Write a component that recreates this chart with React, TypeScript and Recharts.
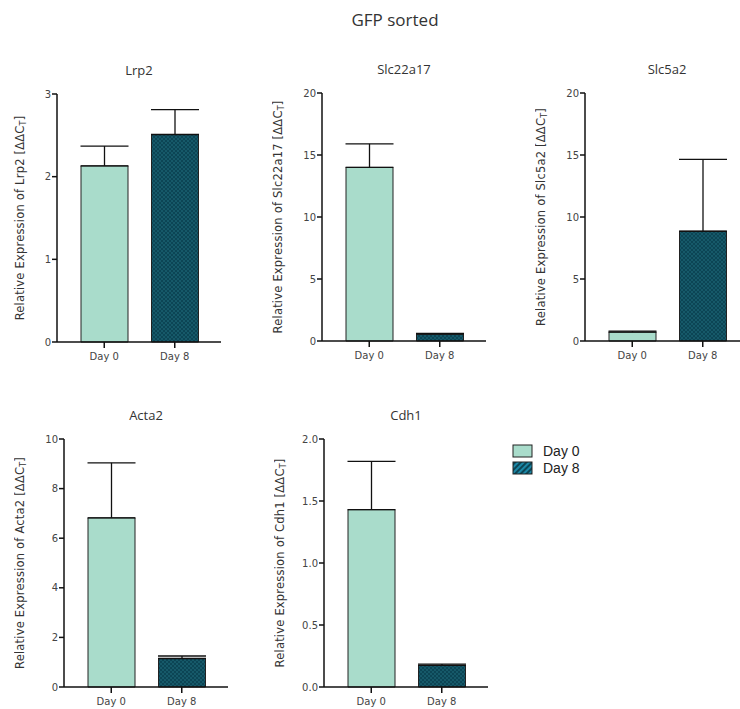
import React from "react";
import { BarChart, Bar, XAxis, YAxis, Cell, ErrorBar } from "recharts";

const days = ["Day 0", "Day 8"];

const lrp2Mean = [2.13, 2.51];
const lrp2Sd = [0.24, 0.3];
const slc22a17Mean = [14.0, 0.55];
const slc22a17Sd = [1.9, 0.07];
const slc5a2Mean = [0.72, 8.85];
const slc5a2Sd = [0.07, 5.8];
const acta2Mean = [6.82, 1.15];
const acta2Sd = [2.22, 0.1];
const cdh1Mean = [1.43, 0.175];
const cdh1Sd = [0.39, 0.01];

const lrp2Ticks = [0, 1, 2, 3];
const slcTicks = [0, 5, 10, 15, 20];
const acta2Ticks = [0, 2, 4, 6, 8, 10];
const cdh1Ticks = [0, 0.5, 1, 1.5, 2];

const DAY0_FILL = "#a9dccb";
const AXIS_W = 50;
const PLOT_W = 164;
const PLOT_H = 248;
const TOP_PAD = 30;
const LABEL_FONT = "'DejaVu Sans', Verdana, sans-serif";

type PanelProps = {
  gene: string;
  mean: number[];
  sd: number[];
  ticks: number[];
  axisX: number;
  plotTop: number;
  labelGap: number;
  fmt?: (v: number) => string;
};

const YLabel = ({ gene, gap }: { gene: string; gap: number }) => {
  const cx = AXIS_W - gap;
  const cy = TOP_PAD + PLOT_H / 2;
  return (
    <text
      x={cx}
      y={cy}
      transform={`rotate(-90, ${cx}, ${cy})`}
      textAnchor="middle"
      dominantBaseline="central"
      fontSize={11.5}
      letterSpacing={0.2}
      fontFamily={LABEL_FONT}
      fill="#333"
    >
      Relative Expression of {gene} [ΔΔC
      <tspan dy={3} fontSize={8}>
        T
      </tspan>
      <tspan dy={-3}>]</tspan>
    </text>
  );
};

const Panel = ({ gene, mean, sd, ticks, axisX, plotTop, labelGap, fmt }: PanelProps) => {
  const data = days.map((d, i) => ({ day: d, value: mean[i], err: [0, sd[i]] }));
  return (
    <div style={{ position: "absolute", left: axisX - AXIS_W, top: plotTop - TOP_PAD }}>
      <div
        style={{
          position: "absolute",
          left: AXIS_W,
          width: PLOT_W,
          top: -3,
          textAlign: "center",
          fontFamily: "'Open Sans', sans-serif",
          fontSize: 13,
          color: "#333",
        }}
      >
        {gene}
      </div>
      <BarChart
        width={AXIS_W + PLOT_W + 4}
        height={TOP_PAD + PLOT_H + 30}
        data={data}
        margin={{ top: TOP_PAD, right: 4, bottom: 0, left: 0 }}
        barSize={47}
      >
        <XAxis
          dataKey="day"
          height={30}
          padding={{ left: 12, right: 11 }}
          axisLine={{ stroke: "#111", strokeWidth: 1.5 }}
          tickLine={{ stroke: "#111", strokeWidth: 1.5 }}
          tickSize={6}
          tickMargin={5}
          tick={{ fill: "#444", fontSize: 10, fontFamily: LABEL_FONT }}
        />
        <YAxis
          width={AXIS_W}
          domain={[ticks[0], ticks[ticks.length - 1]]}
          ticks={ticks}
          tickFormatter={fmt}
          axisLine={{ stroke: "#111", strokeWidth: 1.5 }}
          tickLine={{ stroke: "#111", strokeWidth: 1.5 }}
          tickSize={5}
          tickMargin={1}
          tick={{ fill: "#444", fontSize: 10, fontFamily: LABEL_FONT }}
          label={<YLabel gene={gene} gap={labelGap} />}
        />
        <Bar dataKey="value" isAnimationActive={false} stroke="#222" strokeWidth={1}>
          <Cell fill={DAY0_FILL} />
          <Cell fill="url(#day8Dots)" />
          <ErrorBar dataKey="err" direction="y" width={24} stroke="#111" strokeWidth={1.3} />
        </Bar>
      </BarChart>
    </div>
  );
};

export default function App() {
  return (
    <div style={{ position: "absolute", left: 0, top: 0, width: 740, height: 709, background: "#fff" }}>
      <svg width={0} height={0} style={{ position: "absolute" }}>
        <defs>
          <pattern id="day8Dots" width={4} height={4} patternUnits="userSpaceOnUse">
            <rect width={4} height={4} fill="#0c4555" />
            <circle cx={1} cy={1} r={0.9} fill="#1a6272" />
            <circle cx={3} cy={3} r={0.9} fill="#1a6272" />
          </pattern>
          <pattern
            id="day8Hatch"
            width={4}
            height={4}
            patternUnits="userSpaceOnUse"
            patternTransform="rotate(45)"
          >
            <rect width={4} height={4} fill="#0c4555" />
            <rect width={2} height={4} fill="#1b87a6" />
          </pattern>
        </defs>
      </svg>

      <div
        style={{
          position: "absolute",
          left: 295,
          width: 200,
          top: 8,
          textAlign: "center",
          fontFamily: "'Open Sans', sans-serif",
          fontSize: 17,
          color: "#333",
        }}
      >
        GFP sorted
      </div>

      <Panel gene="Lrp2" mean={lrp2Mean} sd={lrp2Sd} ticks={lrp2Ticks} axisX={57} plotTop={94} labelGap={37} />
      <Panel gene="Slc22a17" mean={slc22a17Mean} sd={slc22a17Sd} ticks={slcTicks} axisX={322} plotTop={93} labelGap={44} />
      <Panel gene="Slc5a2" mean={slc5a2Mean} sd={slc5a2Sd} ticks={slcTicks} axisX={585} plotTop={93} labelGap={44} />
      <Panel gene="Acta2" mean={acta2Mean} sd={acta2Sd} ticks={acta2Ticks} axisX={64} plotTop={439} labelGap={44} />
      <Panel
        gene="Cdh1"
        mean={cdh1Mean}
        sd={cdh1Sd}
        ticks={cdh1Ticks}
        axisX={324}
        plotTop={439}
        labelGap={44}
        fmt={(v) => v.toFixed(1)}
      />

      <svg width={120} height={45} style={{ position: "absolute", left: 505, top: 440 }}>
        <rect x={8} y={5} width={19} height={12} fill={DAY0_FILL} stroke="#222" strokeWidth={1} />
        <text x={38} y={16} fontSize={14} fontFamily="'Liberation Sans', Arial, sans-serif" fill="#222">
          Day 0
        </text>
        <rect x={8} y={22} width={19} height={12} fill="url(#day8Hatch)" stroke="#222" strokeWidth={1} />
        <text x={38} y={33} fontSize={14} fontFamily="'Liberation Sans', Arial, sans-serif" fill="#222">
          Day 8
        </text>
      </svg>
    </div>
  );
}
